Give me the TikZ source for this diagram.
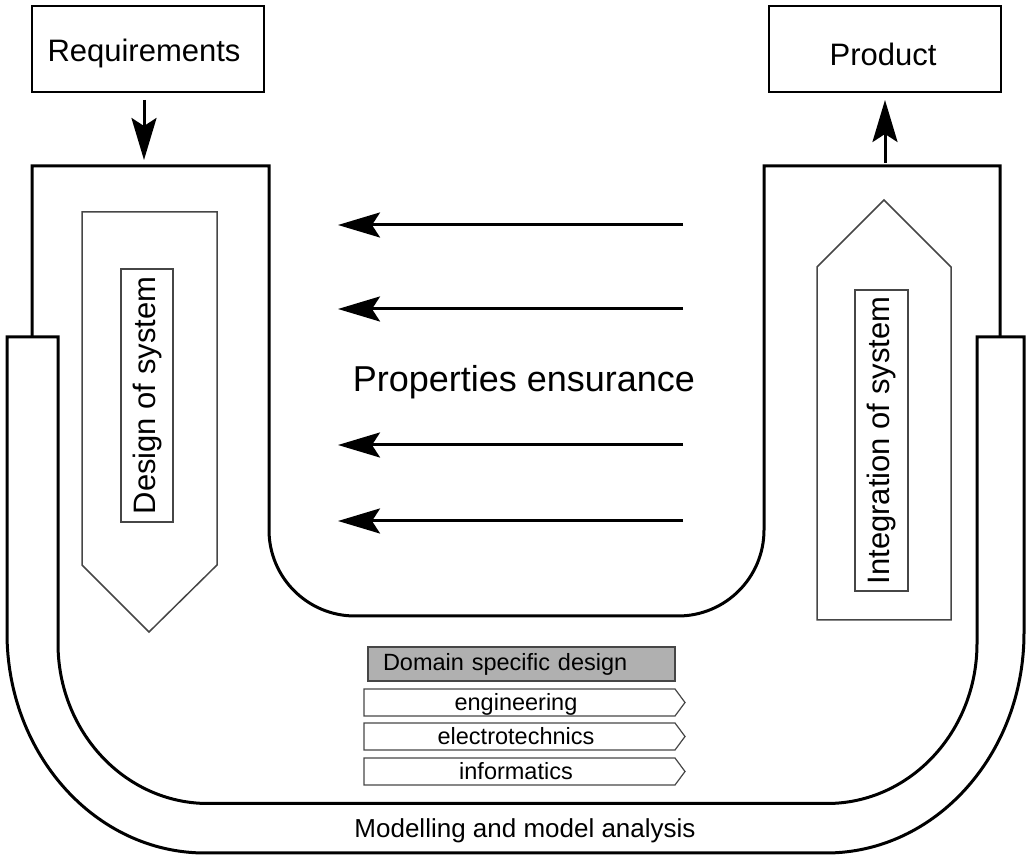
\documentclass[tikz,border=0pt]{standalone}
\usepackage{fontspec}
\setmainfont{Liberation Sans}
\usetikzlibrary{arrows.meta}
\definecolor{thinline}{RGB}{70,70,70}
\definecolor{domaingray}{RGB}{176,176,176}
\begin{document}
\begin{tikzpicture}[x=1pt,y=1pt,
  band/.style={line width=3pt, line join=miter},
  topbox/.style={draw, line width=2pt, minimum width=232pt, minimum height=86pt, inner sep=0pt},
  flow/.style={line width=3pt, -{Stealth[length=42pt,width=25pt,inset=8pt]}},
  thin gray/.style={draw=thinline, line width=1.5pt},
  lbl/.style={inner sep=0pt, anchor=base},
  vlabel/.style={thin gray, rotate=90, inner sep=0pt, font={\fontsize{31pt}{37pt}\selectfont}},
  big/.style={font={\fontsize{31pt}{37pt}\selectfont}},
  small/.style={font={\fontsize{23.5pt}{28pt}\selectfont}},
]
\useasboundingbox (0,0) rectangle (1026,857);

% outer band: modelling and model analysis
\draw[band] (7,520) -- (58,520) -- (58,213.5)
  arc[start angle=180,end angle=270,x radius=150,y radius=160] -- (827,53.5)
  arc[start angle=270,end angle=360,x radius=150,y radius=160] -- (977,520)
  -- (1024,520) -- (1024,224)
  arc[start angle=0,end angle=-90,x radius=198,y radius=220] -- (205,4)
  arc[start angle=270,end angle=180,x radius=198,y radius=220] -- cycle;

% inner band: design and integration arms
\draw[band] (32,520) -- (32,691) -- (269,691) -- (269,327)
  arc[start angle=180,end angle=270,radius=86] -- (678,241)
  arc[start angle=270,end angle=360,radius=86] -- (764,691)
  -- (1000,691) -- (1000,520);

% top boxes
\node[topbox] (req) at (148,808) {};
\node[lbl, big] (reqtext) at (144,795) {Requirements};
\node[topbox] (prod) at (885,808) {};
\node[lbl, big] (prodtext) at (883,791) {Product};

\coordinate (reqin) at (144,697);
\draw[flow, shorten <=7pt] (req.south -| reqin) -- (reqin);
\coordinate (prodout) at (885,694);
\draw[flow, shorten >=7pt] (prodout) -- (prod.south -| prodout);

% design and integration pentagons
\draw[thin gray] (82,645) -- (217,645) -- (217,292) -- (149,225) -- (82,292) -- cycle;
\draw[thin gray] (817,237) -- (817,590) -- (884,657) -- (951,590) -- (951,237) -- cycle;
\node[vlabel, minimum width=253pt, minimum height=52pt] (design) at (147,461.5) {Design of system};
\node[vlabel, minimum width=301pt, minimum height=53pt] (integ) at (881.5,416.5) {Integration of system};

% properties ensurance
\foreach \yy [count=\i] in {632,548,412,336} {
  \coordinate (pa\i) at (683,\yy);
  \coordinate (pb\i) at (338,\yy);
  \draw[flow] (pa\i) -- (pb\i);
}
\node[lbl, font={\fontsize{36pt}{43pt}\selectfont}] (props) at (524,465) {Properties ensurance};

% domain specific design
\node[thin gray, fill=domaingray, minimum width=307pt, minimum height=34pt,
      text width=277pt, inner xsep=15pt, inner ysep=0pt, align=left, small]
      (dsd) at (521.5,193) {Domain specific design};
\draw[thin gray, line width=1.2pt] (364,141) -- (675,141) -- (685,154.5) -- (675,168) -- (364,168) -- cycle;
\draw[thin gray, line width=1.2pt] (364,107) -- (675,107) -- (685,120.5) -- (675,134) -- (364,134) -- cycle;
\draw[thin gray, line width=1.2pt] (364,72) -- (675,72) -- (685,85.5) -- (675,99) -- (364,99) -- cycle;
\node[lbl, small] (eng) at (516,146.5) {engineering};
\node[lbl, small] (elec) at (516,112.5) {electrotechnics};
\node[lbl, small] (inf) at (516,77.5) {informatics};

\node[lbl, font={\fontsize{26pt}{31pt}\selectfont}] (model) at (525,19) {Modelling and model analysis};
\end{tikzpicture}
\end{document}
